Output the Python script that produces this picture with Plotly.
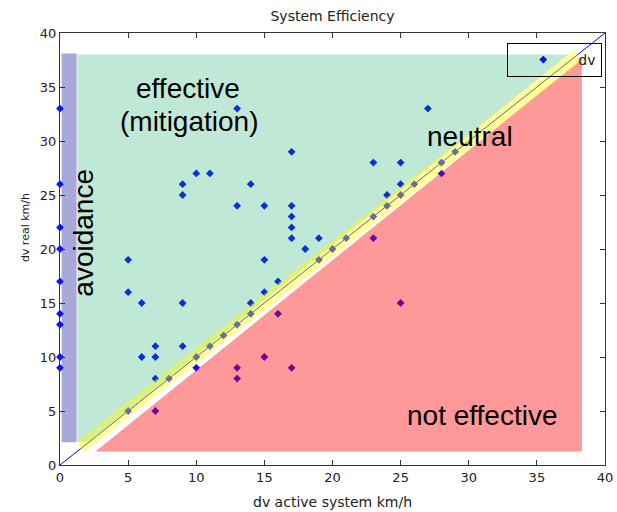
import plotly.graph_objects as go

# dv of the active system vs. dv measured in the real crash (km/h)
dv_active = [
    0, 0, 0, 0, 0, 0, 0, 0, 0,
    5, 5, 6, 6, 7, 7, 7, 9, 9, 9, 9, 10, 11, 13, 13, 14, 14, 15, 15, 15, 16,
    17, 17, 17, 17, 17, 18, 19, 23, 25, 25, 24, 27,
    5, 8, 10, 11, 12, 13, 14, 19, 20, 21, 23, 24, 25, 26, 28, 29,
    7, 10, 13, 13, 15, 16, 17, 23, 25, 28,
]
dv_real = [
    33, 26, 22, 20, 17, 14, 13, 10, 9,
    19, 16, 15, 10, 11, 10, 8, 26, 25, 15, 11, 27, 27, 33, 24, 26, 15, 24, 19, 16, 17,
    29, 24, 23, 22, 21, 20, 21, 28, 28, 26, 25, 33,
    5, 8, 10, 11, 12, 13, 14, 19, 20, 21, 23, 24, 25, 26, 28, 29,
    5, 9, 9, 8, 10, 14, 9, 21, 15, 27,
]

x_ticks = [0, 5, 10, 15, 20, 25, 30, 35, 40]
y_ticks = [0, 5, 10, 15, 20, 25, 30, 35, 40]

TEXT = "#222222"
AX = "#333333"

fig = go.Figure()
fig.add_trace(go.Scatter(
    x=dv_active, y=dv_real, mode="markers", name="dv",
    marker=dict(symbol="diamond", size=6, color="#0a0aff"),
    cliponaxis=False,
))


def poly(pts):
    return "M " + " L ".join(f"{x},{y}" for x, y in pts) + " Z"


shapes = [
    # identity line
    dict(type="line", x0=0, y0=0, x1=40, y1=40, xref="x", yref="y",
         line=dict(color="#0000ff", width=1), layer="below"),
    # effective (mitigation) zone
    dict(type="path", path=poly([(1.27, 2.15), (1.27, 38), (37.3, 38), (2.15, 2.15)]),
         fillcolor="rgba(0,162,97,0.25)", line=dict(width=0), layer="above"),
    # avoidance strip
    dict(type="rect", x0=0.12, x1=1.22, y0=2.1, y1=38.1,
         fillcolor="rgba(40,40,160,0.4)", line=dict(width=0), layer="above"),
    # not effective zone
    dict(type="path", path=poly([(2.6, 1.25), (38.3, 1.25), (38.3, 37.6)]),
         fillcolor="rgba(255,0,0,0.4)", line=dict(width=0), layer="above"),
    # neutral band
    dict(type="path", path=poly([(1.22, 2.16), (37.7, 38.4), (38.3, 37.45), (1.7, 1.1)]),
         fillcolor="rgba(255,255,0,0.4)", line=dict(width=0), layer="above"),
]

big = dict(family="Liberation Sans, Arial", size=28, color="black")
annotations = [
    dict(x=9.4, y=34.9, text="effective", showarrow=False, font=big,
         xanchor="center", yanchor="middle"),
    dict(x=9.45, y=31.85, text="(mitigation)", showarrow=False, font=big,
         xanchor="center", yanchor="middle"),
    dict(x=30.1, y=30.4, text="neutral", showarrow=False, font=big,
         xanchor="center", yanchor="middle"),
    dict(x=30.95, y=4.6, text="not effective", showarrow=False, font=big,
         xanchor="center", yanchor="middle"),
    dict(x=1.75, y=21.5, text="avoidance", showarrow=False, font=big, textangle=-90,
         xanchor="center", yanchor="middle"),
    # axis titles
    dict(xref="paper", yref="paper", x=0.5, y=-0.0856, text="dv active system km/h",
         showarrow=False, xanchor="center", yanchor="middle",
         font=dict(family="DejaVu Sans", size=14, color=TEXT)),
    dict(xref="paper", yref="paper", x=-0.064, y=0.5486, text="dv real km/h",
         showarrow=False, xanchor="center", yanchor="middle", textangle=-90,
         font=dict(family="DejaVu Sans", size=11, color=TEXT)),
]

axis_common = dict(
    range=[0, 40], showgrid=False, zeroline=False, automargin=False,
    showline=True, linecolor=AX, linewidth=1, mirror="ticks",
    ticks="inside", ticklen=5, tickcolor=AX, tickwidth=1,
    tickfont=dict(family="DejaVu Sans", size=13, color=TEXT),
)

fig.update_layout(
    width=617, height=512,
    margin=dict(l=60, r=12, t=33, b=47, autoexpand=False),
    paper_bgcolor="white", plot_bgcolor="white",
    title=dict(text="System Efficiency", x=0.5, xref="paper", xanchor="center",
               y=1 - 16 / 512, yanchor="middle",
               font=dict(family="DejaVu Sans", size=14, color=TEXT)),
    xaxis=dict(tickvals=x_ticks, **axis_common),
    yaxis=dict(tickvals=y_ticks, **axis_common),
    shapes=shapes,
    annotations=annotations,
    showlegend=True,
    legend=dict(x=0.995, y=0.977, xanchor="right", yanchor="top",
                bgcolor="rgba(0,0,0,0)", bordercolor="black", borderwidth=1,
                itemwidth=60,
                font=dict(family="DejaVu Sans", size=14, color=TEXT)),
)

fig.write_html("out.html")
